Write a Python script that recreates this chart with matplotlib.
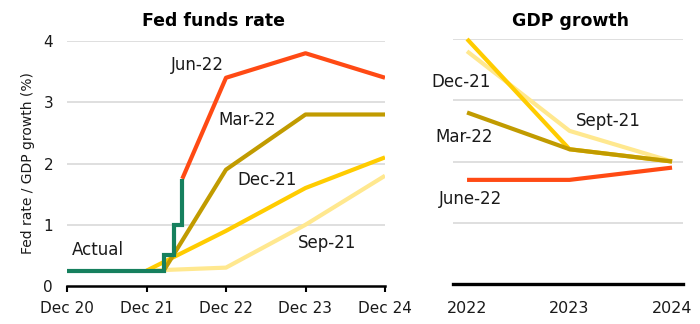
import matplotlib
matplotlib.use("Agg")
import matplotlib.pyplot as plt

# ---------------- data ----------------
# Left panel: months since Dec 2020
fed_ticks = [0, 12, 24, 36, 48]
fed_tick_labels = ["Dec 20", "Dec 21", "Dec 22", "Dec 23", "Dec 24"]

actual_x = [0, 14.6, 14.6, 16.2, 16.2, 17.4, 17.4]
actual_y = [0.25, 0.25, 0.5, 0.5, 1.0, 1.0, 1.75]

sep21_x = [12, 24, 36, 48]
sep21_y = [0.25, 0.3, 1.0, 1.8]

dec21_x = [12, 24, 36, 48]
dec21_y = [0.25, 0.9, 1.6, 2.1]

mar22_x = [14.6, 24, 36, 48]
mar22_y = [0.25, 1.9, 2.8, 2.8]

jun22_x = [17.4, 24, 36, 48]
jun22_y = [1.75, 3.4, 3.8, 3.4]

# Right panel: GDP growth projections
gdp_years = [2022, 2023, 2024]
gdp_sep21 = [3.8, 2.5, 2.0]
gdp_dec21 = [4.0, 2.2, 2.0]
gdp_mar22 = [2.8, 2.2, 2.0]
gdp_jun22 = [1.7, 1.7, 1.9]

y_ticks = [0, 1, 2, 3, 4]

# ---------------- style ----------------
C_RED = "#FF4A14"
C_OLIVE = "#C19B00"
C_YEL = "#FFCC00"
C_LYEL = "#FFE88F"
C_GREEN = "#16805E"
C_GRID = "#DCDCDC"
TXT = "#1a1a1a"
LW = 3.0
ANN = 12

fig = plt.figure(figsize=(7.0, 3.24), dpi=100)

# ---------------- left panel ----------------
axL = fig.add_axes([67/700, 1-286/324, 318/700, 245/324])
axL.set_xlim(0, 48)
axL.set_ylim(0, 4)
for y in [1, 2, 3, 4]:
    axL.axhline(y, color=C_GRID, lw=1.3, zorder=0)

axL.plot(sep21_x, sep21_y, color=C_LYEL, lw=LW, solid_capstyle="butt", zorder=2)
axL.plot(dec21_x, dec21_y, color=C_YEL, lw=LW, solid_capstyle="butt", zorder=3)
axL.plot(mar22_x, mar22_y, color=C_OLIVE, lw=LW, solid_capstyle="butt", zorder=4)
axL.plot(jun22_x, jun22_y, color=C_RED, lw=LW, solid_capstyle="butt", zorder=5)
axL.plot(actual_x, actual_y, color=C_GREEN, lw=LW, solid_capstyle="butt",
         solid_joinstyle="miter", zorder=6)

axL.set_xticks(fed_ticks)
axL.set_xticklabels(fed_tick_labels)
axL.set_yticks(y_ticks)
axL.tick_params(axis="x", length=4, width=1.5, color="black", pad=7,
                labelsize=11, labelcolor=TXT)
axL.tick_params(axis="y", length=0, pad=10, labelsize=11, labelcolor=TXT)
for s in ["top", "right", "left"]:
    axL.spines[s].set_visible(False)
axL.spines["bottom"].set_linewidth(1.8)
axL.spines["bottom"].set_color("black")
axL.spines["bottom"].set_zorder(7)


def figlab(x, y, t):
    fig.text(x/700, 1-y/324, t, ha="center", va="center", fontsize=ANN, color=TXT)


figlab(197, 65, "Jun-22")
figlab(247, 120, "Mar-22")
figlab(267, 180, "Dec-21")
figlab(327, 243, "Sep-21")
figlab(98, 250, "Actual")

fig.text(214/700, 1-21/324, "Fed funds rate", ha="center", va="center",
         fontsize=12.5, fontweight="bold", color="black")
fig.text(28/700, 1-163/324, "Fed rate / GDP growth (%)", rotation=90,
         ha="center", va="center", fontsize=10, color=TXT)

# ---------------- right panel ----------------
axR = fig.add_axes([453/700, 1-284/324, 230/700, 245/324])
axR.set_xlim(2021.863, 2024.107)
axR.set_ylim(0, 4)
for y in [1, 2, 3, 4]:
    axR.axhline(y, color=C_GRID, lw=1.3, zorder=0)

axR.plot(gdp_years, gdp_sep21, color=C_LYEL, lw=LW, solid_capstyle="butt", zorder=2)
axR.plot(gdp_years, gdp_dec21, color=C_YEL, lw=LW, solid_capstyle="butt", zorder=3,
         clip_on=False)
axR.plot(gdp_years, gdp_mar22, color=C_OLIVE, lw=LW, solid_capstyle="butt", zorder=4)
axR.plot(gdp_years, gdp_jun22, color=C_RED, lw=LW, solid_capstyle="butt", zorder=5)

axR.set_xticks(gdp_years)
axR.set_xticklabels([str(y) for y in gdp_years])
axR.set_yticks([])
axR.tick_params(axis="x", length=0, pad=12, labelsize=11.5, labelcolor=TXT)
for s in ["top", "right", "left"]:
    axR.spines[s].set_visible(False)
axR.spines["bottom"].set_linewidth(2.4)
axR.spines["bottom"].set_color("black")

figlab(461, 82, "Dec-21")
figlab(608, 121, "Sept-21")
figlab(464, 137, "Mar-22")
figlab(471, 199, "June-22")

fig.text(570/700, 1-21/324, "GDP growth", ha="center", va="center",
         fontsize=12.5, fontweight="bold", color="black")

fig.savefig("out.png", dpi=100)
